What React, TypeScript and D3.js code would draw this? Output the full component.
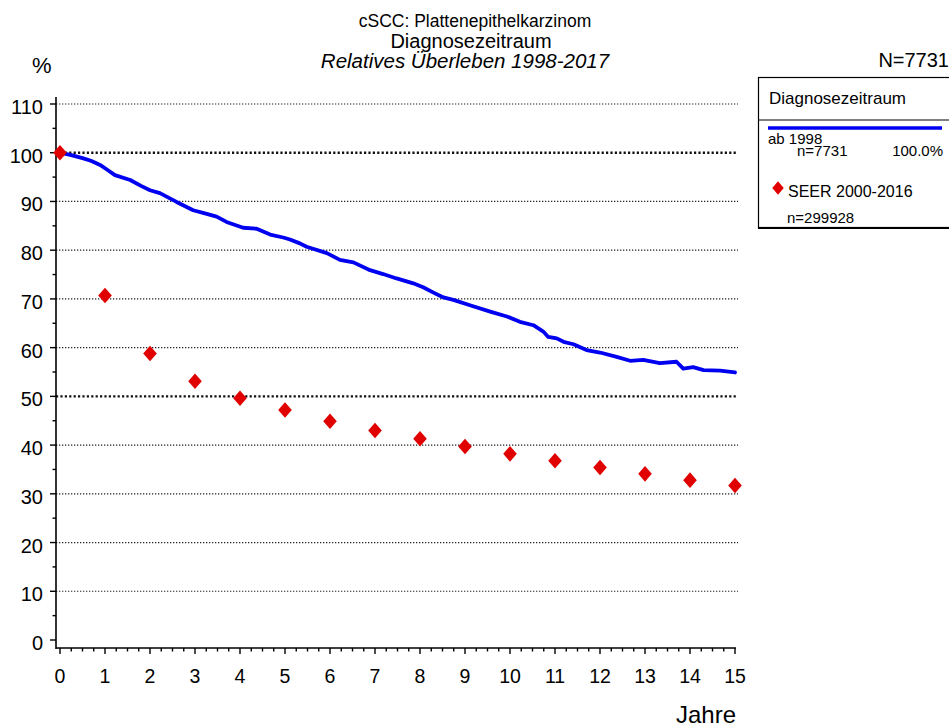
import React, { useEffect, useRef } from "react";
import * as d3 from "d3";

// Relatives Überleben, Register (Kaplan-Meier-artig)
const blueYears = [
  0, 0.25, 0.52, 0.7, 0.89, 1.05, 1.22, 1.56, 1.8, 2.0, 2.22, 2.59, 2.96, 3.2,
  3.48, 3.7, 4.07, 4.37, 4.67, 4.96, 5.11, 5.33, 5.48, 5.93, 6.22, 6.52, 6.89,
  7.18, 7.48, 7.85, 8.07, 8.3, 8.52, 8.74, 9.11, 9.56, 9.93, 10.22, 10.52,
  10.74, 10.85, 11.04, 11.19, 11.41, 11.7, 12.0, 12.37, 12.67, 12.96, 13.33,
  13.7, 13.85, 14.07, 14.3, 14.67, 15.0,
];
const blueValues = [
  100, 99.5, 98.85, 98.3, 97.5, 96.5, 95.4, 94.4, 93.2, 92.3, 91.7, 89.9, 88.2,
  87.6, 86.9, 85.8, 84.6, 84.4, 83.2, 82.6, 82.2, 81.4, 80.7, 79.4, 78.0, 77.5,
  75.9, 75.1, 74.2, 73.2, 72.4, 71.3, 70.3, 69.8, 68.7, 67.4, 66.4, 65.3, 64.6,
  63.3, 62.2, 61.9, 61.2, 60.7, 59.5, 59.0, 58.1, 57.3, 57.5, 56.8, 57.1, 55.7,
  56.0, 55.4, 55.3, 54.9,
];

// SEER 2000-2016
const seerYears = [0, 1, 2, 3, 4, 5, 6, 7, 8, 9, 10, 11, 12, 13, 14, 15];
const seerValues = [
  100, 70.7, 58.8, 53.1, 49.6, 47.2, 44.9, 43.0, 41.3, 39.7, 38.2, 36.8, 35.4,
  34.1, 32.8, 31.7,
];

const yTicks = [0, 10, 20, 30, 40, 50, 60, 70, 80, 90, 100, 110];
const xTicks = [0, 1, 2, 3, 4, 5, 6, 7, 8, 9, 10, 11, 12, 13, 14, 15];
const boldGrid = [50, 100];

const titleLines = [
  "cSCC: Plattenepithelkarzinom",
  "Diagnosezeitraum",
  "Relatives Überleben 1998-2017",
];

const FONT = "'Liberation Sans', Arial, sans-serif";
const BLUE = "#0000f0";
const RED = "#e00000";

function drawChart(el: SVGSVGElement) {
  const svg = d3.select(el);
  svg.selectAll("*").remove();

  const x = d3.scaleLinear().domain([0, 15]).range([60, 735]);
  const y = d3.scaleLinear().domain([0, 110]).range([640, 104]);
  const axisX = 56;
  const axisY = 648;

  // titles
  const titles = svg.append("g").attr("font-family", FONT).attr("fill", "#000");
  titles
    .append("text")
    .attr("x", 475)
    .attr("y", 27)
    .attr("text-anchor", "middle")
    .attr("font-size", 17.5)
    .text(titleLines[0]);
  titles
    .append("text")
    .attr("x", 471)
    .attr("y", 48)
    .attr("text-anchor", "middle")
    .attr("font-size", 20)
    .text(titleLines[1]);
  titles
    .append("text")
    .attr("x", 465)
    .attr("y", 68)
    .attr("text-anchor", "middle")
    .attr("font-size", 20.5)
    .attr("font-style", "italic")
    .text(titleLines[2]);

  svg
    .append("text")
    .attr("x", 32)
    .attr("y", 73)
    .attr("font-family", FONT)
    .attr("font-size", 22)
    .text("%");

  svg
    .append("text")
    .attr("x", 949)
    .attr("y", 67)
    .attr("text-anchor", "end")
    .attr("font-family", FONT)
    .attr("font-size", 20)
    .text("N=7731");

  // gridlines
  const grid = svg.append("g");
  yTicks
    .filter((t) => t > 0)
    .forEach((t) => {
      const bold = boldGrid.includes(t);
      grid
        .append("line")
        .attr("x1", axisX)
        .attr("x2", 738)
        .attr("y1", y(t))
        .attr("y2", y(t))
        .attr("stroke", bold ? "#111" : "#222")
        .attr("stroke-width", bold ? 2.4 : 1.2)
        .attr("stroke-dasharray", bold ? "2.2,2.2" : "1.3,1.7");
    });

  // y axis
  const yAxis = svg.append("g").attr("stroke", "#000");
  yAxis
    .append("line")
    .attr("x1", axisX)
    .attr("x2", axisX)
    .attr("y1", 97)
    .attr("y2", axisY + 1)
    .attr("stroke-width", 1.6);
  d3.range(0, 111, 5).forEach((t) => {
    const major = t % 10 === 0;
    yAxis
      .append("line")
      .attr("x1", axisX - (major ? 6 : 3.5))
      .attr("x2", axisX)
      .attr("y1", y(t))
      .attr("y2", y(t))
      .attr("stroke-width", 1.4);
  });
  svg
    .append("g")
    .attr("font-family", FONT)
    .attr("font-size", 20)
    .selectAll("text")
    .data(yTicks)
    .join("text")
    .attr("x", 43)
    .attr("y", (d) => y(d) + 10)
    .attr("text-anchor", "end")
    .text((d) => String(d));

  // x axis
  const xAxis = svg.append("g").attr("stroke", "#000");
  xAxis
    .append("line")
    .attr("x1", axisX)
    .attr("x2", 736)
    .attr("y1", axisY)
    .attr("y2", axisY)
    .attr("stroke-width", 1.6);
  d3.range(0, 15.01, 0.25).forEach((t) => {
    const major = Math.abs(t - Math.round(t)) < 1e-6;
    xAxis
      .append("line")
      .attr("x1", x(t))
      .attr("x2", x(t))
      .attr("y1", axisY)
      .attr("y2", axisY + (major ? 6 : 3.5))
      .attr("stroke-width", 1.4);
  });
  svg
    .append("g")
    .attr("font-family", FONT)
    .attr("font-size", 19.5)
    .selectAll("text")
    .data(xTicks)
    .join("text")
    .attr("x", (d) => x(d))
    .attr("y", 683)
    .attr("text-anchor", "middle")
    .text((d) => String(d));

  svg
    .append("text")
    .attr("x", 736)
    .attr("y", 723)
    .attr("text-anchor", "end")
    .attr("font-family", FONT)
    .attr("font-size", 24)
    .text("Jahre");

  // blue curve
  const bluePts: [number, number][] = blueYears.map((t, i) => [t, blueValues[i]]);
  svg
    .append("path")
    .datum(bluePts)
    .attr("fill", "none")
    .attr("stroke", BLUE)
    .attr("stroke-width", 3.8)
    .attr("stroke-linejoin", "round")
    .attr("stroke-linecap", "round")
    .attr(
      "d",
      d3
        .line<[number, number]>()
        .x((d) => x(d[0]))
        .y((d) => y(d[1]))
    );

  // SEER diamonds
  const diamond = "M0,-7.8L6.8,0L0,7.8L-6.8,0Z";
  svg
    .append("g")
    .selectAll("path")
    .data(seerYears.map((t, i) => [t, seerValues[i]]))
    .join("path")
    .attr("d", diamond)
    .attr("fill", RED)
    .attr("transform", (d) => `translate(${x(d[0])},${y(d[1])})`);

  // legend
  const lg = svg.append("g").attr("font-family", FONT);
  lg.append("rect")
    .attr("x", 758.5)
    .attr("y", 77.5)
    .attr("width", 200)
    .attr("height", 150)
    .attr("fill", "#fff")
    .attr("stroke", "#000")
    .attr("stroke-width", 1.2);
  lg.append("line")
    .attr("x1", 758)
    .attr("x2", 949)
    .attr("y1", 228.5)
    .attr("y2", 228.5)
    .attr("stroke", "#000")
    .attr("stroke-width", 1);
  lg.append("line")
    .attr("x1", 758)
    .attr("x2", 949)
    .attr("y1", 120)
    .attr("y2", 120)
    .attr("stroke", "#000")
    .attr("stroke-width", 1);
  lg.append("text")
    .attr("x", 769)
    .attr("y", 104)
    .attr("font-size", 17)
    .text("Diagnosezeitraum");
  lg.append("line")
    .attr("x1", 768)
    .attr("x2", 942)
    .attr("y1", 128)
    .attr("y2", 128)
    .attr("stroke", BLUE)
    .attr("stroke-width", 3.5);
  lg.append("text").attr("x", 768).attr("y", 144).attr("font-size", 15).text("ab 1998");
  lg.append("text").attr("x", 797).attr("y", 156).attr("font-size", 15).text("n=7731");
  lg.append("text")
    .attr("x", 943)
    .attr("y", 156)
    .attr("text-anchor", "end")
    .attr("font-size", 15)
    .text("100.0%");
  lg.append("path")
    .attr("d", diamond)
    .attr("fill", RED)
    .attr("transform", "translate(778,188) scale(0.85)");
  lg.append("text").attr("x", 788).attr("y", 197).attr("font-size", 16).text("SEER 2000-2016");
  lg.append("text").attr("x", 787).attr("y", 223).attr("font-size", 15).text("n=299928");
}

export default function App() {
  const ref = useRef<SVGSVGElement>(null);
  useEffect(() => {
    if (ref.current) drawChart(ref.current);
  }, []);
  return (
    <svg
      ref={ref}
      width={949}
      height={728}
      style={{ position: "absolute", left: 0, top: 0, background: "#fff" }}
    />
  );
}
